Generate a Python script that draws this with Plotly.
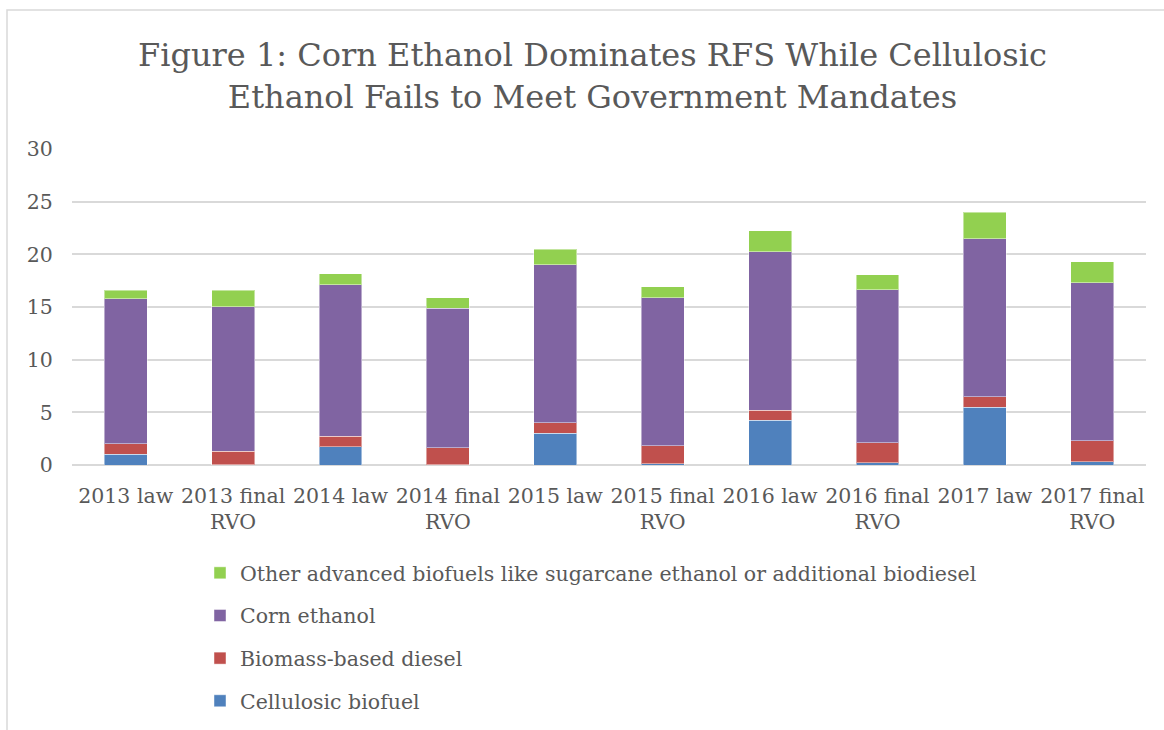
import plotly.graph_objects as go

categories = ["2013 law", "2013 final<br>RVO", "2014 law", "2014 final<br>RVO", "2015 law",
              "2015 final<br>RVO", "2016 law", "2016 final<br>RVO", "2017 law", "2017 final<br>RVO"]
cellulosic = [1.0, 0.006, 1.75, 0.033, 3.0, 0.12, 4.25, 0.23, 5.5, 0.31]
biomass_diesel = [1.0, 1.28, 1.0, 1.62, 1.0, 1.7, 0.95, 1.9, 1.0, 1.97]
corn_ethanol = [13.8, 13.75, 14.35, 13.25, 15.0, 14.05, 15.05, 14.5, 15.0, 15.0]
other_advanced = [0.8, 1.55, 1.05, 0.99, 1.5, 1.04, 2.0, 1.45, 2.5, 2.0]

series = [
    ("Cellulosic biofuel", cellulosic, "#4F81BD", 4),
    ("Biomass-based diesel", biomass_diesel, "#C0504D", 3),
    ("Corn ethanol", corn_ethanol, "#8064A2", 2),
    ("Other advanced biofuels like sugarcane ethanol or additional biodiesel", other_advanced, "#92D050", 1),
]

FONT = "DejaVu Serif"
GRAY = "#595959"
FS = 20.5

fig = go.Figure()
for name, vals, color, rank in series:
    fig.add_trace(go.Bar(
        x=categories, y=vals, name=name, legendgroup=name, legendrank=rank,
        marker=dict(color=color, line=dict(color="rgba(255,255,255,0.45)", width=1)),
    ))

L, R, T, B = 72, 18, 149, 265
W, H = 1164, 730
pw, ph = W - L - R, H - T - B

def px_x(px):
    return (px - L) / pw

def px_y(py):
    return (H - B - py) / ph

fig.update_layout(
    width=W, height=H,
    margin=dict(l=L, r=R, t=T, b=B, autoexpand=False),
    barmode="stack", bargap=0.6,
    plot_bgcolor="white", paper_bgcolor="white",
    font=dict(family=FONT, color=GRAY, size=FS),
    showlegend=True,
    legend=dict(
        x=px_x(200), y=px_y(553), xanchor="left", yanchor="top",
        orientation="v", traceorder="grouped", tracegroupgap=13,
        font=dict(family=FONT, size=FS, color=GRAY),
        bgcolor="rgba(0,0,0,0)",
    ),
    xaxis=dict(
        showgrid=False, showline=False, zeroline=False,
        ticks="outside", ticklen=12, tickcolor="rgba(0,0,0,0)",
        tickfont=dict(family=FONT, size=FS, color=GRAY),
        tickangle=0, automargin=False,
    ),
    yaxis=dict(
        range=[0, 30], dtick=5, showgrid=True, gridcolor="#d9d9d9", gridwidth=1.5,
        zeroline=True, zerolinecolor="#d9d9d9", zerolinewidth=1.5, showline=False,
        ticks="outside", ticklen=14, tickcolor="rgba(0,0,0,0)",
        tickfont=dict(family=FONT, size=FS, color=GRAY), automargin=False,
    ),
    annotations=[dict(
        text="Figure 1: Corn Ethanol Dominates RFS While Cellulosic<br>Ethanol Fails to Meet Government Mandates",
        xref="paper", yref="paper", x=px_x(592), y=px_y(76),
        xanchor="center", yanchor="middle", showarrow=False,
        font=dict(family=FONT, size=32, color=GRAY),
    )],
    shapes=[dict(
        type="rect", xref="paper", yref="paper",
        x0=px_x(7), x1=px_x(1175), y0=px_y(745), y1=px_y(10),
        line=dict(color="#d9d9d9", width=1.5), fillcolor="rgba(0,0,0,0)", layer="below",
    )],
)

fig.write_html("out.html")
